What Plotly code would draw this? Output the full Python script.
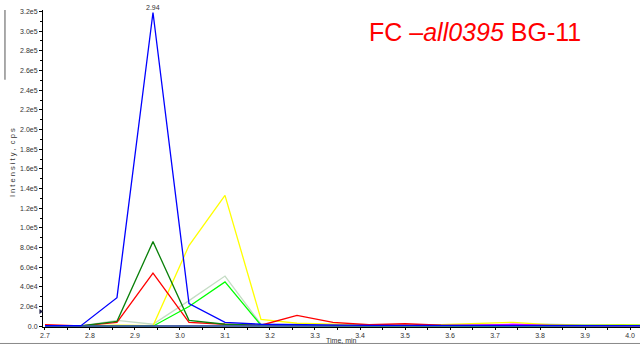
import plotly.graph_objects as go

# Retention times (min) of the extracted-ion chromatogram points
times = [2.70, 2.78, 2.86, 2.94, 3.02, 3.10, 3.18, 3.26, 3.34, 3.42,
         3.50, 3.58, 3.66, 3.74, 3.82, 3.90, 3.98, 4.06]

# Intensities (cps) for each transition
gray_trace = [300, 300, 6000, 2000, 26000, 51000, 2000, 1000, 700, 600,
              600, 500, 1000, 1500, 2000, 1200, 800, 600]
yellow_trace = [200, 200, 1000, 500, 82000, 133000, 7000, 3000, 2000, 1200,
                1000, 1500, 3000, 4000, 1500, 1000, 1500, 1000]
red_trace = [1500, 300, 4000, 54000, 4000, 2000, 1000, 11000, 4000, 1500,
             2500, 1000, 800, 1000, 800, 600, 500, 500]
darkgreen_trace = [300, 300, 5000, 86000, 6000, 2000, 1000, 800, 600, 500,
                   500, 400, 400, 400, 400, 400, 400, 400]
lime_trace = [0, 0, 500, 0, 20000, 45000, 1000, 500, 300, 300,
              300, 300, 300, 300, 300, 300, 800, 800]
magenta_trace = [0, 0, 0, 0, 0, 0, 300, 300, 300, 300,
                 300, 500, 1000, 2000, 600, 300, 300, 300]
blue_trace = [500, 500, 29000, 319000, 23000, 4000, 2000, 1500, 1000, 800,
              800, 700, 700, 700, 700, 700, 600, 600]
teal_trace = [200, 200, 200, 200, 200, 200, 800, 900, 800, 400,
              300, 300, 300, 300, 300, 300, 300, 300]

series = [
    ("gray", gray_trace, "#c4dcc4"),
    ("yellow", yellow_trace, "#ffff00"),
    ("red", red_trace, "#ff0000"),
    ("darkgreen", darkgreen_trace, "#0a800a"),
    ("lime", lime_trace, "#00ff00"),
    ("magenta", magenta_trace, "#ff00ff"),
    ("teal", teal_trace, "#106a8a"),
    ("blue", blue_trace, "#0000ff"),
]

# Y tick labels
y_tickvals = [0, 20000, 40000, 60000, 80000, 100000, 120000, 140000, 160000,
              180000, 200000, 220000, 240000, 260000, 280000, 300000, 320000]
y_ticktext = ["0.0", "2.0e4", "4.0e4", "6.0e4", "8.0e4", "1.0e5", "1.2e5",
              "1.4e5", "1.6e5", "1.8e5", "2.0e5", "2.2e5", "2.4e5", "2.6e5",
              "2.8e5", "3.0e5", "3.2e5"]
x_tickvals = [2.7, 2.8, 2.9, 3.0, 3.1, 3.2, 3.3, 3.4, 3.5, 3.6, 3.7, 3.8, 3.9, 4.0]
x_ticktext = ["2.7", "2.8", "2.9", "3.0", "3.1", "3.2", "3.3", "3.4", "3.5",
              "3.6", "3.7", "3.8", "3.9", "4.0"]

fig = go.Figure()
for name, vals, color in series:
    fig.add_trace(go.Scatter(x=times, y=vals, mode="lines", name=name,
                             line=dict(color=color, width=1.3),
                             showlegend=False, hoverinfo="skip"))

FONT = "Liberation Sans, Arial, sans-serif"
tick_font = dict(family=FONT, size=7, color="#333333")

fig.update_layout(
    width=640, height=344,
    margin=dict(l=43, r=0, t=10, b=17),
    paper_bgcolor="white", plot_bgcolor="white",
    xaxis=dict(range=[2.6956, 4.0222], tickvals=x_tickvals, ticktext=x_ticktext,
               showgrid=False, zeroline=False, showline=True, linecolor="#000000",
               linewidth=1, ticks="outside", ticklen=2, tickcolor="#000000",
               minor=dict(dtick=0.05, tick0=2.7, ticks="outside", ticklen=2,
                          tickcolor="#000000"),
               tickfont=tick_font),
    yaxis=dict(range=[-800, 321500], tickvals=y_tickvals, ticktext=y_ticktext,
               showgrid=False, zeroline=False, showline=True, linecolor="#000000",
               linewidth=1, ticks="outside", ticklen=3, tickcolor="#000000",
               minor=dict(dtick=10000, tick0=0, ticks="outside", ticklen=2,
                          tickcolor="#000000"),
               tickfont=tick_font),
)

# Peak apex label
peak_i = blue_trace.index(max(blue_trace))
fig.add_annotation(x=times[peak_i], y=blue_trace[peak_i], text=f"{times[peak_i]:.2f}",
                   showarrow=False, yanchor="bottom", yshift=-1,
                   font=dict(family=FONT, size=7, color="#333333"))

# Title
fig.add_annotation(xref="paper", yref="paper", x=0.542, y=0.93, xanchor="left",
                   yanchor="middle", showarrow=False,
                   text="FC \u2013<i>all0395</i> BG-11",
                   font=dict(family=FONT, size=25, color="#ff0000"))

# Axis titles
fig.add_annotation(xref="paper", yref="paper", x=-0.052, y=0.52, textangle=-90,
                   showarrow=False, xanchor="center", yanchor="middle",
                   text="I n t e n s i t y ,  c p s",
                   font=dict(family=FONT, size=7.5, color="#333333"))
fig.add_annotation(xref="paper", yref="paper", x=0.5, y=0, yshift=-19,
                   showarrow=False, xanchor="center", yanchor="bottom",
                   text="Time, min",
                   font=dict(family=FONT, size=7, color="#333333"))

# Frame decorations: left scroll bar and bottom divider
fig.add_shape(type="line", xref="paper", yref="paper", x0=-0.0637, x1=-0.0637,
              y0=0.78, y1=1.0, line=dict(color="#555555", width=1))
fig.add_shape(type="line", xref="paper", yref="paper", x0=-0.08, x1=1.0,
              y0=-0.052, y1=-0.052, line=dict(color="#888888", width=1))
# Small marker on the intensity axis
fig.add_shape(type="path", xref="paper", yref="y",
              path="M -0.006 17500 L 0.0 15000 L -0.006 12500 Z",
              fillcolor="#1a1a40", line=dict(color="#1a1a40", width=0))

fig.write_html("out.html")
